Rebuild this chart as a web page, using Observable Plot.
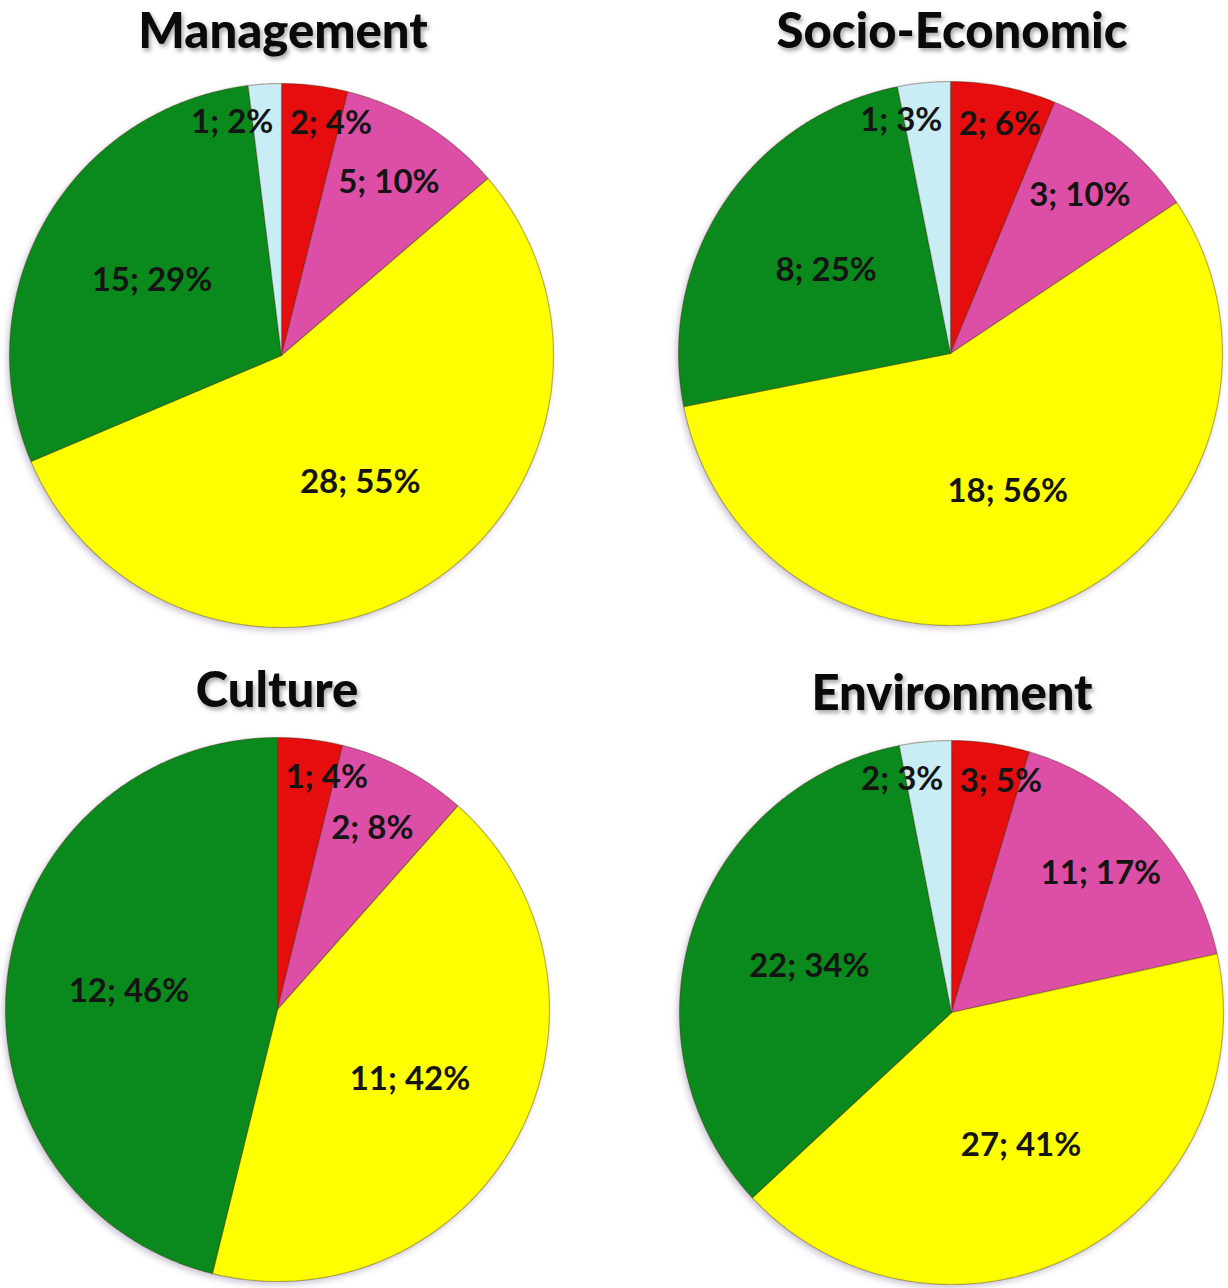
<!DOCTYPE html>
<html>
<head>
<meta charset="utf-8">
<script src="https://cdn.jsdelivr.net/npm/d3@7"></script>
<script src="https://cdn.jsdelivr.net/npm/@observablehq/plot@0.6"></script>
<style>
  html, body { margin: 0; padding: 0; background: #fff; overflow: hidden; }
  #page { position: relative; width: 1228px; height: 1288px; font-family: Lato, "Open Sans", sans-serif; }
  .title { position: absolute; width: 560px; text-align: center; font-weight: 900; font-size: 49px; line-height: 59px; color: #0a0a0a; text-shadow: 2px 3px 4px rgba(0,0,0,0.35); }
  .pie { position: absolute; }
</style>
</head>
<body>
<div id="page"></div>
<script>
// ---- data ----
const categories = ["Category 1", "Category 2", "Category 3", "Category 4", "Category 5"];
const pieTitles = ["Management", "Socio-Economic", "Culture", "Environment"];
const managementCounts = [2, 5, 28, 15, 1];
const managementPercents = [4, 10, 55, 29, 2];
const socioEconomicCounts = [2, 3, 18, 8, 1];
const socioEconomicPercents = [6, 10, 56, 25, 3];
const cultureCounts = [1, 2, 11, 12, 0];
const culturePercents = [4, 8, 42, 46, 0];
const environmentCounts = [3, 11, 27, 22, 2];
const environmentPercents = [5, 17, 41, 34, 3];

const seriesCounts = [managementCounts, socioEconomicCounts, cultureCounts, environmentCounts];
const seriesPercents = [managementPercents, socioEconomicPercents, culturePercents, environmentPercents];

// ---- layout / style ----
const palette = ["#e50d0d", "#dd4fa6", "#ffff00", "#0a8a1c", "#c9ecf5"];
const layout = [
  {cx: 281, cy: 355, tx: 283, top: 0},
  {cx: 950, cy: 353, tx: 952, top: 0},
  {cx: 277, cy: 1009, tx: 277, top: 659},
  {cx: 951, cy: 1012, tx: 952, top: 662}
];
const R = 272, S = 560, D = (S / 2) / R;

const page = document.getElementById("page");

pieTitles.forEach((title, k) => {
  const counts = seriesCounts[k], pcts = seriesPercents[k];
  const total = d3.sum(counts);
  const arcs = d3.pie().sort(null).value(d => d)(counts);
  const nonZero = counts.map((c, i) => c > 0 ? i : -1).filter(i => i >= 0);
  const firstIdx = nonZero[0], lastIdx = nonZero[nonZero.length - 1];
  const polys = [];
  const labels = [];
  arcs.forEach((a, i) => {
    if (counts[i] === 0) return;
    const key = categories[i];
    polys.push({x: 0, y: 0, key});
    const n = Math.max(2, Math.ceil((a.endAngle - a.startAngle) / 0.008));
    for (let j = 0; j <= n; j++) {
      const t = a.startAngle + (a.endAngle - a.startAngle) * j / n;
      polys.push({x: Math.sin(t), y: Math.cos(t), key});
    }
    polys.push({x: 0, y: 0, key});
    const share = counts[i] / total;
    const mid = (a.startAngle + a.endAngle) / 2;
    const text = `${counts[i]}; ${pcts[i]}%`;
    if (share < 0.07 && i === firstIdx) {
      labels.push({x: 0.03, y: 0.86 * Math.cos(mid), text, anchor: "start"});
    } else if (share < 0.07 && i === lastIdx) {
      labels.push({x: -0.03, y: 0.86 * Math.cos(mid), text, anchor: "end"});
    } else {
      const frac = share < 0.2 ? 0.75 : 0.55;
      labels.push({x: frac * Math.sin(mid), y: frac * Math.cos(mid), text, anchor: "middle"});
    }
  });

  const textOpts = {x: "x", y: "y", text: "text", fontSize: 33, fontWeight: "bold", fill: "#141414"};
  const svg = Plot.plot({
    width: S, height: S, margin: 0,
    x: {domain: [-D, D], axis: null},
    y: {domain: [-D, D], axis: null},
    color: {domain: categories, range: palette},
    style: {fontFamily: "Lato, 'Open Sans', sans-serif", background: "transparent", overflow: "visible"},
    marks: [
      Plot.line(polys, {x: "x", y: "y", z: "key", fill: "key", stroke: "rgba(60,40,0,0.35)", strokeWidth: 1.2, curve: "linear"}),
      Plot.text(labels.filter(d => d.anchor === "middle"), {...textOpts, textAnchor: "middle"}),
      Plot.text(labels.filter(d => d.anchor === "start"), {...textOpts, textAnchor: "start"}),
      Plot.text(labels.filter(d => d.anchor === "end"), {...textOpts, textAnchor: "end"})
    ]
  });
  const L = layout[k];
  svg.classList.add("pie");
  svg.style.left = (L.cx - S / 2) + "px";
  svg.style.top = (L.cy - S / 2) + "px";
  const lg = svg.querySelector('g[aria-label="line"]');
  if (lg) lg.style.filter = "drop-shadow(-2px 3px 3px rgba(80,60,110,0.3))";
  page.appendChild(svg);

  const t = document.createElement("div");
  t.className = "title";
  t.textContent = title;
  t.style.left = (L.tx - 280) + "px";
  t.style.top = L.top + "px";
  page.appendChild(t);
});
</script>
</body>
</html>
